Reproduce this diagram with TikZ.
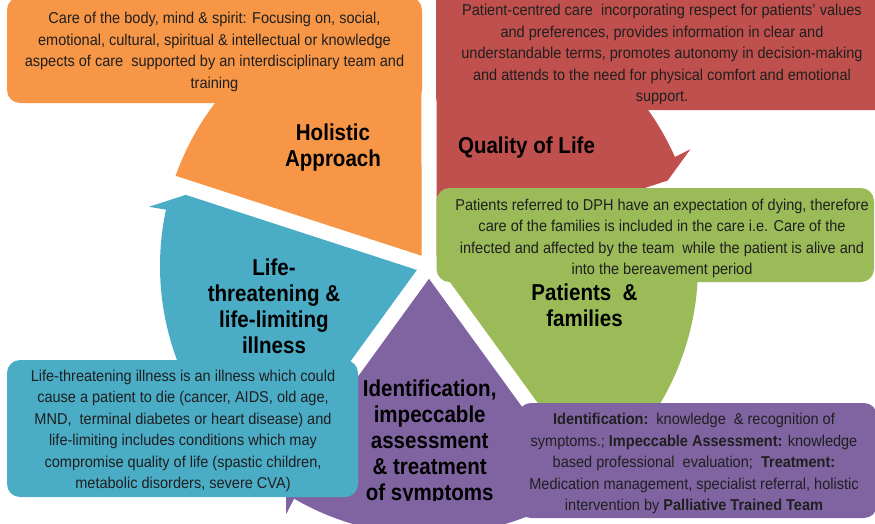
\documentclass[tikz,border=0pt]{standalone}
\usepackage{fontspec}
\setmainfont{Liberation Sans}
\newfontfamily\bodyfont{Liberation Sans}[FakeStretch=0.925]
\newfontfamily\titlefont{Liberation Sans}[FakeStretch=0.893]
\usetikzlibrary{calc}
\definecolor{cOrange}{HTML}{F79646}
\definecolor{cRed}{HTML}{C0504D}
\definecolor{cGreen}{HTML}{9BBB59}
\definecolor{cPurple}{HTML}{8064A2}
\definecolor{cBlue}{HTML}{4BACC6}
% #1 = counter-clockwise end angle, #2 = clockwise end angle (arrow head), #3 = colour
\newcommand\cyclewedge[3]{%
  \fill[#3] ($(c)+({(#1+#2)/2}:12.76)$) -- ($(c)+({#1-1.6}:269)$)
    arc[start angle={#1-1.6}, end angle={#2+5.9}, radius=269]
    -- ($(c)+({#2+1.7}:253.5)+({#2+36}:38.7)$)
    -- ($(c)+({#2+1.7}:253.5)$) -- cycle;}
\begin{document}
\begin{tikzpicture}[x=1pt,y=1pt,
  box/.style={rounded corners=13pt},
  body/.style={font=\bodyfont\fontsize{15.7pt}{21.5pt}\selectfont, align=center, anchor=base, inner sep=0pt, text=black!88},
  ttl/.style={font=\titlefont\bfseries\fontsize{23pt}{26pt}\selectfont, align=center, anchor=base, inner sep=0pt, text=black}]
\useasboundingbox (0,0) rectangle (875,-523);
\clip (0,0) rectangle (875,-523);
\coordinate (c) at (429,-266);
% segments
\cyclewedge{162}{90}{cOrange}
\cyclewedge{90}{18}{cRed}
\cyclewedge{18}{-54}{cGreen}
\cyclewedge{-54}{-126}{cPurple}
\cyclewedge{234}{162}{cBlue}
% text boxes
\fill[cOrange, box] (7,3) rectangle (422,-103);
\fill[cRed, box] (436,14) rectangle (888,-110);
\fill[cGreen, box] (436.5,-188) rectangle (874,-282);
\fill[cBlue, box] (7,-360) rectangle (358,-497);
\fill[cPurple, box] (518,-403) rectangle (877,-518);
% descriptions (anchor = baseline of the last line)
\node[body] (tOrange) at (214.5,-88) {Care of the body, mind \& spirit: Focusing on, social,\\emotional, cultural, spiritual \& intellectual or knowledge\\aspects of care\ \ supported by an interdisciplinary team and\\training};
\node[body] (tRed) at (662,-101.7) {Patient-centred care\ \ incorporating respect for patients’ values\\and preferences, provides information in clear and\\understandable terms, promotes autonomy in decision-making\\and attends to the need for physical comfort and emotional\\support.};
\node[body] (tGreen) at (662,-274.5) {Patients referred to DPH have an expectation of dying, therefore\\care of the families is included in the care i.e. Care of the\\infected and affected by the team\ \ while the patient is alive and\\into the bereavement period};
\node[body] (tBlue) at (183,-488.5) {Life-threatening illness is an illness which could\\cause a patient to die (cancer, AIDS, old age,\\MND,\ \ terminal diabetes or heart disease) and\\life-limiting includes conditions which may\\compromise quality of life (spastic children,\\metabolic disorders, severe CVA)};
\node[body] (tPurple) at (694,-510.5) {\textbf{Identification:}\ \ knowledge\ \ \& recognition of\\symptoms.; \textbf{Impeccable Assessment:} knowledge\\based professional\ \ evaluation;\ \ \textbf{Treatment:}\\Medication management, specialist referral, holistic\\intervention by \textbf{Palliative Trained Team}};
% titles
\node[ttl] (hHol) at (333,-166.7) {Holistic\\Approach};
\node[ttl] (hQol) at (526.5,-153.3) {Quality of Life};
\node[ttl] (hPat) at (584.5,-326.7) {Patients\ \ \&\\families};
\node[ttl] (hLife) at (274,-353.3) {Life-\\threatening \&\\life-limiting\\illness};
\begin{scope}
\clip (300,-300) rectangle (560,-500.5);
\node[ttl] (hId) at (429.7,-500.5) {Identification,\\impeccable\\assessment\\\& treatment\\of symptoms};
\end{scope}
\end{tikzpicture}
\end{document}
